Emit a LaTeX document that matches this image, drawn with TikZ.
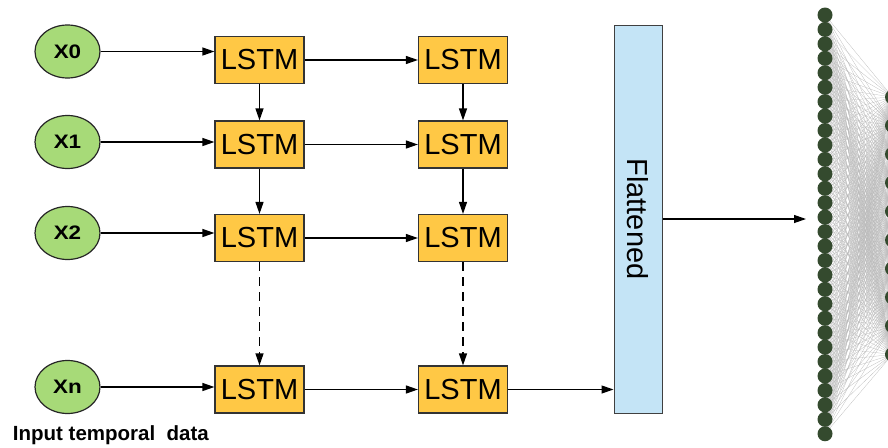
\documentclass[tikz,border=0pt]{standalone}
\usepackage{fontspec}
\setmainfont{Liberation Sans}
\usetikzlibrary{positioning,arrows.meta,shapes.geometric,backgrounds}
\definecolor{inputgreen}{HTML}{A7DA78}
\definecolor{lstmorange}{HTML}{FFC845}
\definecolor{flatblue}{HTML}{C4E4F6}
\definecolor{neurongreen}{HTML}{344A2E}
\newcommand{\inlabel}[1]{\scalebox{1.15}[1]{#1}}

\begin{document}
\begin{tikzpicture}[x=1pt, y=-1pt,
    inp/.style={ellipse, draw=black!85, line width=1.2pt, fill=inputgreen, minimum width=65pt, minimum height=53pt, inner sep=0pt, font=\bfseries\fontsize{19.5}{19.5}\selectfont},
    lstm/.style={rectangle, draw=black!80, line width=1.2pt, fill=lstmorange, minimum width=89pt, minimum height=47pt, inner sep=0pt, font=\fontsize{29}{29}\selectfont},
    flat/.style={rectangle, draw=black!75, line width=1pt, fill=flatblue, minimum width=48pt, minimum height=388pt, inner sep=0pt, font=\fontsize{29}{29}\selectfont},
    neuron/.style={circle, fill=neurongreen, minimum size=15pt, inner sep=0pt},
    flow/.style={-{Triangle[length=12pt,width=8pt]}, line width=1.2pt},
    synapse/.style={draw=gray!55, line width=0.25pt}]
    \useasboundingbox (0,0) rectangle (888,447);
    % inputs
    \node[inp] (x0) at (67.5,51.5) {\inlabel{X0}};
    \node[inp] (x1) at (67.5,142) {\inlabel{X1}};
    \node[inp] (x2) at (67.5,233) {\inlabel{X2}};
    \node[inp] (xn) at (67.5,387) {\inlabel{Xn}};
    \node[anchor=base west, inner sep=0pt, font=\bfseries\fontsize{20.5}{20.5}\selectfont] (cap) at (12.7,440.7) {Input temporal~~data};
    % two LSTM layers
    \node[lstm] (a0) at (259.5,60) {LSTM};
    \node[lstm] (a1) at (259.5,144.5) {LSTM};
    \node[lstm] (a2) at (259.5,238) {LSTM};
    \node[lstm] (an) at (259.5,389.5) {LSTM};
    \node[lstm] (b0) at (463,60) {LSTM};
    \node[lstm] (b1) at (463,144.5) {LSTM};
    \node[lstm] (b2) at (463,238) {LSTM};
    \node[lstm] (bn) at (463,389.5) {LSTM};
    \node[flat] (fl) at (638,219) {\rotatebox{-90}{Flattened}};
    \coordinate (netin) at (806,219);
    \foreach \r in {0,1,2,n} {
      \draw[flow] (x\r.east) -- (x\r.east -| a\r.west);
      \draw[flow] (a\r.east) -- (b\r.west);
    }
    \foreach \col in {a,b} {
      \draw[flow] (\col 0.south) -- (\col 1.north);
      \draw[flow] (\col 1.south) -- (\col 2.north);
      \draw[flow, dash pattern=on 9pt off 6pt] (\col 2.south) -- (\col n.north);
    }
    \draw[flow] (bn.east) -- (bn.east -| fl.west);
    \draw[flow] (fl.east) -- (netin);
    % dense layer
    \foreach \i in {1,...,30}
      \node[neuron] (p\i) at (825,{15+14.44*(\i-1)}) {};
    \foreach \j in {1,...,10}
      \node[neuron] (q\j) at (892.5,{97+28.6*(\j-1)}) {};
    \begin{scope}[on background layer]
      \foreach \i in {1,...,30}
        \foreach \j in {1,...,10}
          \draw[synapse] (p\i.center) -- (q\j.center);
    \end{scope}
  \end{tikzpicture}
\end{document}
